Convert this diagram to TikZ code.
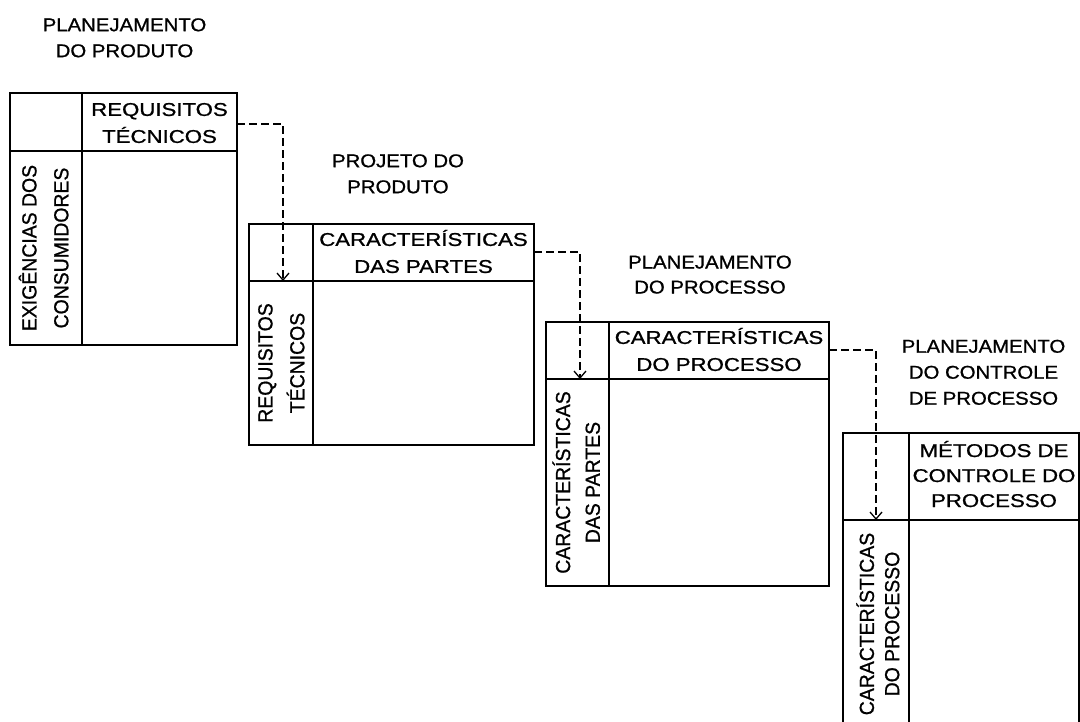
\documentclass[tikz,border=0pt]{standalone}
\usepackage{fontspec}
\setmainfont{Liberation Sans}[FakeBold=0.9]
\usepackage{graphicx}
\usetikzlibrary{arrows.meta}
\newcommand{\htxt}[3]{\scalebox{#1}[1]{\fontsize{18.5}{#2}\selectfont\begin{tabular}{@{}c@{}}#3\end{tabular}}}
\newcommand{\vtxt}[2]{\scalebox{1.05}[1.1]{\fontsize{18.5}{#1}\selectfont\begin{tabular}{@{}c@{}}#2\end{tabular}}}
\begin{document}
\begin{tikzpicture}[x=1pt,y=-1pt,
  grid/.style={line width=1.5pt, line join=miter},
  conn/.style={line width=1.3pt, dash pattern=on 7.5pt off 4.5pt, -{Straight Barb[length=7pt,width=12pt,line width=1.3pt]}},
  lbl/.style={inner sep=0pt, anchor=center}]
\useasboundingbox (0,0) rectangle (1080,721);
\fill[white] (0,0) rectangle (1080,721);
\clip (0,0) rectangle (1080,721);

% Matrix 1
\draw[grid] (10,93) rectangle (237,345);
\draw[grid] (82,93) -- (82,345);
\draw[grid] (10,151) -- (237,151);
% Matrix 2
\draw[grid] (249,224) rectangle (534,445);
\draw[grid] (313,224) -- (313,445);
\draw[grid] (249,281) -- (534,281);
% Matrix 3
\draw[grid] (546,322) rectangle (829,586);
\draw[grid] (609,322) -- (609,586);
\draw[grid] (546,379) -- (829,379);
% Matrix 4
\draw[grid] (843,433) rectangle (1079,740);
\draw[grid] (909,433) -- (909,740);
\draw[grid] (843,520) -- (1079,520);

% titles
\node[lbl] (t1) at (124.5,39) {\htxt{1.1}{26}{PLANEJAMENTO\\DO PRODUTO}};
\node[lbl] (t2) at (398,175) {\htxt{1.1}{26}{PROJETO DO\\PRODUTO}};
\node[lbl] (t3) at (710,276) {\htxt{1.1}{25}{PLANEJAMENTO\\DO PROCESSO}};
\node[lbl] (t4) at (983.5,373.5) {\htxt{1.1}{26}{PLANEJAMENTO\\DO CONTROLE\\DE PROCESSO}};

% header texts
\node[lbl] (h1) at (159.5,124) {\htxt{1.2}{27}{REQUISITOS\\TÉCNICOS}};
\node[lbl] (h2) at (423.5,254) {\htxt{1.2}{27}{CARACTERÍSTICAS\\DAS PARTES}};
\node[lbl] (h3) at (719,352) {\htxt{1.2}{27}{CARACTERÍSTICAS\\DO PROCESSO}};
\node[lbl] (h4) at (994,477) {\htxt{1.2}{25}{MÉTODOS DE\\CONTROLE DO\\PROCESSO}};

% left column texts
\node[lbl, rotate=90] (l1) at (46,248) {\vtxt{29}{EXIGÊNCIAS DOS\\CONSUMIDORES}};
\node[lbl, rotate=90] (l2) at (282,363) {\vtxt{29}{REQUISITOS\\TÉCNICOS}};
\node[lbl, rotate=90] (l3) at (579,482.5) {\vtxt{27}{CARACTERÍSTICAS\\DAS PARTES}};
\node[lbl, rotate=90] (l4) at (881.5,624) {\vtxt{23}{CARACTERÍSTICAS\\DO PROCESSO}};

% connector anchors
\coordinate (s1) at (237,124);
\coordinate (e1) at (283,281);
\coordinate (s2) at (534,252);
\coordinate (e2) at (580,379);
\coordinate (s3) at (829,350);
\coordinate (e3) at (876,520);

\draw[conn] (s1) -| (e1);
\draw[conn] (s2) -| (e2);
\draw[conn] (s3) -| (e3);
\end{tikzpicture}
\end{document}
